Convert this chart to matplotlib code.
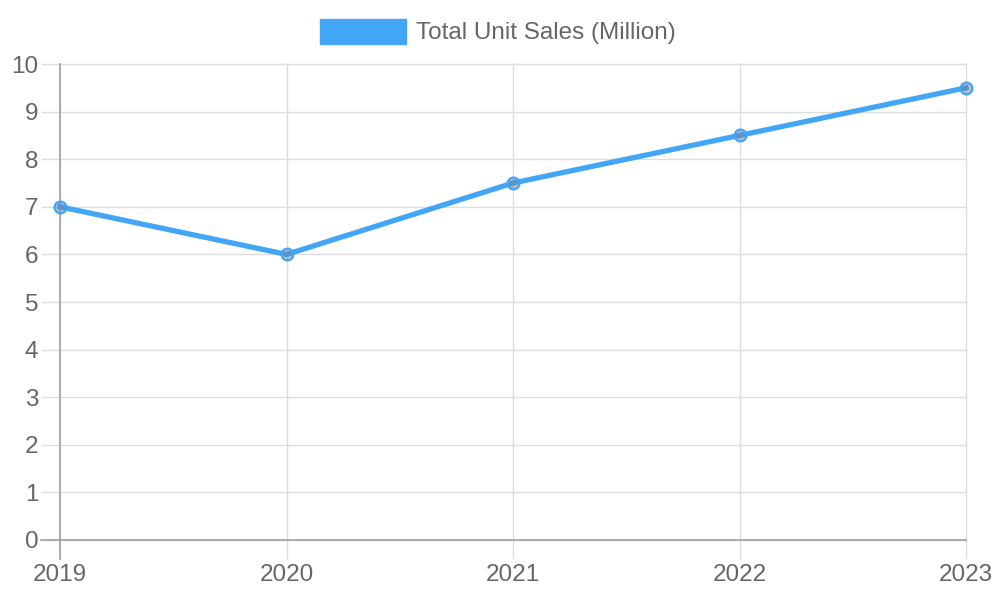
import matplotlib.pyplot as plt
from matplotlib.patches import Patch

years = ['2019', '2020', '2021', '2022', '2023']
sales = [7, 6, 7.5, 8.5, 9.5]
y_ticks = [0, 1, 2, 3, 4, 5, 6, 7, 8, 9, 10]
series_name = 'Total Unit Sales (Million)'

plt.rcParams['font.family'] = ['Liberation Sans', 'DejaVu Sans']
blue = '#42A5F5'
txt = '#666666'
grid = '#dddddd'

fig = plt.figure(figsize=(10, 6), dpi=100)
ax = fig.add_axes([0.060, 0.10, 0.906, 0.7933])

x = list(range(len(years)))
ax.plot(x, sales, color=blue, linewidth=3.8, marker='o', markersize=8.5,
        markerfacecolor=(0.42, 0.52, 0.65, 0.5), markeredgecolor=blue,
        markeredgewidth=1.6, zorder=3, clip_on=False)

ax.set_xlim(0, len(years) - 1)
ax.set_ylim(0, 10)
ax.set_xticks(x)
ax.set_xticklabels(years)
ax.set_yticks(y_ticks)

ax.grid(True, color=grid, linewidth=1)
ax.set_axisbelow(True)
for g in ax.get_xgridlines() + ax.get_ygridlines():
    g.set_clip_on(False)
for s in ['top', 'right']:
    ax.spines[s].set_visible(False)
for s in ['left', 'bottom']:
    ax.spines[s].set_color('#a0a0a0')
    ax.spines[s].set_linewidth(1.2)
# axis lines run on past the corner like the tick marks do
ax.spines['left'].set_bounds(-0.4, 10)
ax.spines['bottom'].set_bounds(-0.084, 4)
ax.tick_params(axis='both', length=14, width=1, color=grid, labelcolor=txt,
               labelsize=17.5, pad=1.5)
ax.tick_params(axis='x', pad=3)

handle = Patch(facecolor=blue, edgecolor=blue)
fig.legend([handle], [series_name], loc='center', bbox_to_anchor=(0.498, 0.9475),
           frameon=False, fontsize=17.5, labelcolor=txt, handlelength=3.54,
           handleheight=1.2, handletextpad=0.41)

fig.savefig('out.png', dpi=100)
